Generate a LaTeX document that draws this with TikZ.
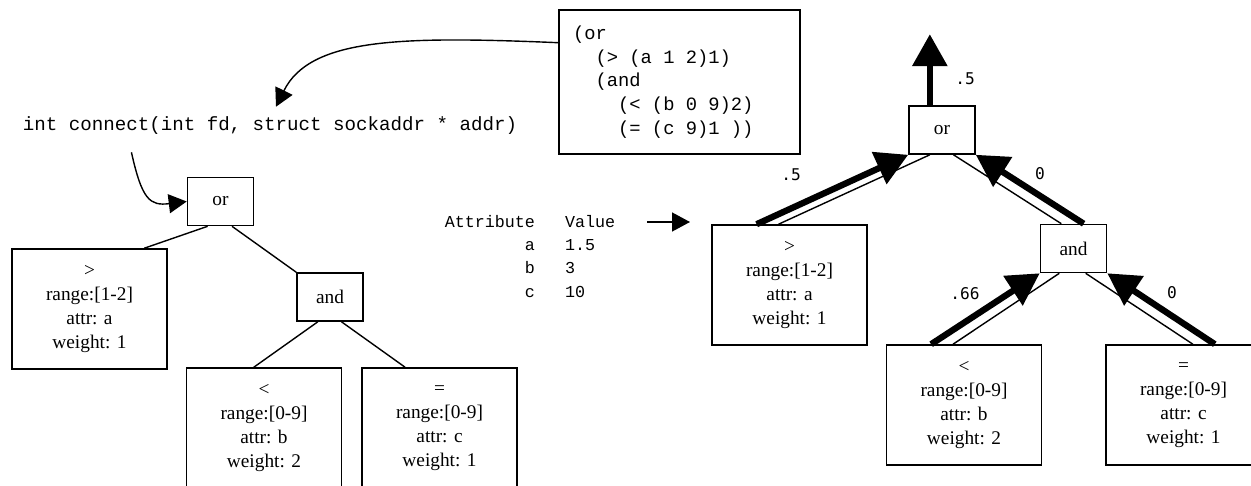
\documentclass[tikz,border=0pt]{standalone}
\usepackage{fontspec}
\setmainfont{Liberation Serif}
\setmonofont{Liberation Mono}
\newfontfamily\weightfont{DejaVu Sans Mono}
\usepackage{tikz}
\usetikzlibrary{positioning,calc,arrows.meta}

\tikzset{
	opbox/.style={draw,line width=0.9pt,minimum width=1.32cm,minimum height=0.96cm,inner sep=0pt,font=\fontsize{11}{13.6}\selectfont},
	leafbox/.style={draw,line width=0.9pt,minimum width=3.1cm,minimum height=2.4cm,inner sep=0pt,align=center,font=\fontsize{11}{13.6}\selectfont},
	edge/.style={line width=0.8pt},
	flow/.style={line width=3.6pt,-{Triangle[length=0.64cm,width=0.68cm]}},
	hint/.style={line width=0.8pt,-{Triangle[length=0.36cm,width=0.38cm]}},
	wlabel/.style={inner sep=0pt,font=\weightfont\fontsize{9.2}{11}\selectfont},
}

\begin{document}
\begin{tikzpicture}[x=0.02cm,y=-0.02cm]
	\useasboundingbox (0,0) rectangle (1251,486);
	
	\node[inner sep=0pt,font=\ttfamily\fontsize{10.9}{13.5}\selectfont] (proto) at (270,126) {int connect(int fd, struct sockaddr * addr)};
	
	\node[draw,line width=0.9pt,minimum width=4.82cm,minimum height=2.88cm,inner xsep=0.28cm,text width=4.26cm,align=left,font=\ttfamily\fontsize{10.7}{13.5}\selectfont] (sexpr) at (679.5,82) {\spaceskip=0pt\xspaceskip=0pt (or\\\hspace*{1.2em}(> (a 1 2)1)\\\hspace*{1.2em}(and\\\hspace*{2.4em}(< (b 0 9)2)\\\hspace*{2.4em}(= (c 9)1 ))};
	
	\node[inner sep=0pt,font=\ttfamily\fontsize{9.5}{13.3}\selectfont] (attrs) at (530,257.5) {\begin{tabular}{@{}r@{\hspace{1.8em}}l@{}}Attribute & Value\\ a & 1.5\\ b & 3\\ c & 10\end{tabular}};
	
	% tree as parsed
	\node[opbox] (orL) at (220.5,201.5) {or};
	\node[leafbox] (gtL) at (89.5,309) {>\\range:[1-2]\\attr: a\\weight: 1};
	\node[opbox] (andL) at (330,297) {and};
	\node[leafbox] (ltL) at (264,428) {<\\range:[0-9]\\attr: b\\weight: 2};
	\node[leafbox] (eqL) at (439.5,428) {=\\range:[0-9]\\attr: c\\weight: 1};
	
	% tree after evaluation
	\node[opbox] (orR) at (942,130) {or};
	\node[leafbox] (gtR) at (789.5,285) {>\\range:[1-2]\\attr: a\\weight: 1};
	\node[opbox] (andR) at (1073.5,248.5) {and};
	\node[leafbox] (ltR) at (964,405) {<\\range:[0-9]\\attr: b\\weight: 2};
	\node[leafbox] (eqR) at (1183.5,405) {=\\range:[0-9]\\attr: c\\weight: 1};
	
	\coordinate (sexprOut) at ($(sexpr.north west)!0.23!(sexpr.south west)$);
	\coordinate (protoIn) at ($(proto.north)+(6,-10)$);
	\coordinate (protoOut) at ($(proto.south west)!0.22!(proto.south east)+(0,17)$);
	\coordinate (feedA) at (647,222);
	\coordinate (feedB) at (690,222);
	\coordinate (orRtop) at ($(orR.north west)!0.32!(orR.north east)$);
	\coordinate (Above orR) at ($(orRtop)+(0,-71)$);
	
	\draw[hint] (sexprOut) .. controls (400,36) and (310,38) .. (protoIn);
	\draw[hint] (protoOut) .. controls (142,200) and (150,206) .. (orL.west);
	\draw[hint] (feedA) -- (feedB);
	
	\draw[edge] ($(orL.south west)!0.31!(orL.south east)$) -- ($(gtL.north west)!0.85!(gtL.north east)$);
	\draw[edge] ($(orL.south west)!0.67!(orL.south east)$) -- (andL.north west);
	\draw[edge] ($(andL.south west)!0.32!(andL.south east)$) -- ($(ltL.north west)!0.435!(ltL.north east)$);
	\draw[edge] ($(andL.south west)!0.67!(andL.south east)$) -- ($(eqL.north west)!0.28!(eqL.north east)$);
	
	%\draw[edge] (gtR) -- (orR);
	\draw[flow] ($(gtR.north west)!0.29!(gtR.north east)$) -- (orR.south west);
	\draw[edge] ($(gtR.north west)!0.43!(gtR.north east)$) -- ($(orR.south west)!0.32!(orR.south east)$);
	\draw[flow] ($(andR.north west)!0.65!(andR.north east)$) -- (orR.south east);
	\draw[edge] ($(andR.north west)!0.32!(andR.north east)$) -- ($(orR.south west)!0.67!(orR.south east)$);
	\draw[flow] ($(ltR.north west)!0.29!(ltR.north east)$) -- (andR.south west);
	\draw[edge] ($(ltR.north west)!0.43!(ltR.north east)$) -- ($(andR.south west)!0.29!(andR.south east)$);
	\draw[flow] ($(eqR.north west)!0.70!(eqR.north east)$) -- (andR.south east);
	\draw[edge] ($(eqR.north west)!0.56!(eqR.north east)$) -- ($(andR.south west)!0.68!(andR.south east)$);
	\draw[flow] (orRtop) -- (Above orR);
	
	\node[wlabel] (wTop) at (965,79) {.5};
	\node[wlabel] (wGt) at (791,175) {.5};
	\node[wlabel] (wAnd) at (1040,174) {0};
	\node[wlabel] (wLt) at (965,294) {.66};
	\node[wlabel] (wEq) at (1172,293) {0};
	
\end{tikzpicture}
\end{document}
